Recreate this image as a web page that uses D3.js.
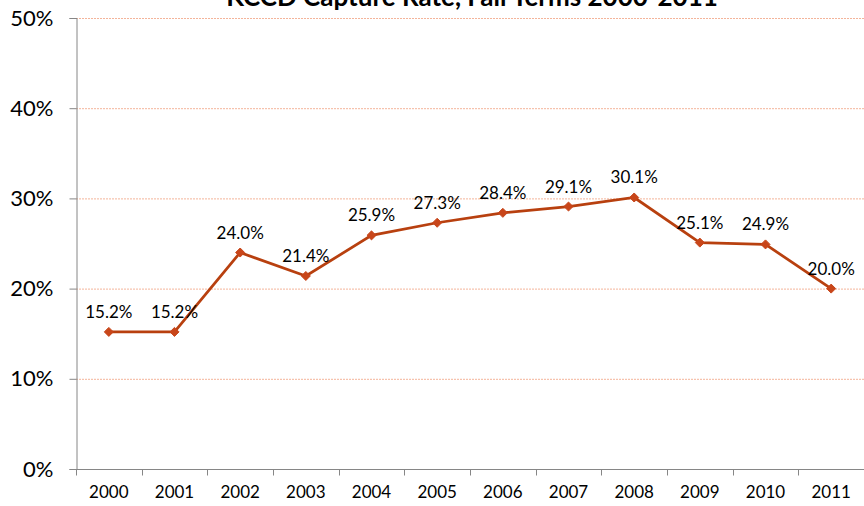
<!DOCTYPE html>
<html>
<head>
<meta charset="utf-8">
<script src="https://cdn.jsdelivr.net/npm/d3@7"></script>
<style>
  body { margin: 0; background: #fff; }
  svg { font-family: Lato, "Liberation Sans", "DejaVu Sans", sans-serif; }
</style>
</head>
<body>
<script>
// chart data
const years = ['2000', '2001', '2002', '2003', '2004', '2005', '2006', '2007', '2008', '2009', '2010', '2011']
const rates = [15.2, 15.2, 24.0, 21.4, 25.9, 27.3, 28.4, 29.1, 30.1, 25.1, 24.9, 20.0]
const yTicks = [0, 10, 20, 30, 40, 50]
const title = 'KCCD Capture Rate, Fall Terms 2000-2011'

const width = 864, height = 506
const margin = {top: 18, right: 0, bottom: 37, left: 76}

const svg = d3.select('body').append('svg')
    .attr('width', width)
    .attr('height', height)

// scales
const xScale = d3.scaleBand()
    .domain(years)
    .range([margin.left, width - margin.right])

const yScale = d3.scaleLinear()
    .domain([0, 50])
    .range([height - margin.bottom, margin.top])

// gridlines
svg.append('g').selectAll('line')
    .data(yTicks.filter(d => d > 0))
    .enter()
    .append('line')
        .attr('x1', margin.left)
        .attr('x2', width - margin.right)
        .attr('y1', d => yScale(d) + 0.5)
        .attr('y2', d => yScale(d) + 0.5)
        .attr('stroke', '#f4b49a')
        .attr('stroke-width', 1)
        .attr('stroke-dasharray', '2,1')

// y axis
const yAxis = svg.append('g')
    .attr('transform', 'translate(' + (margin.left + 0.5) + ',0)')
    .call(d3.axisLeft(yScale).tickValues(yTicks).tickSize(7).tickFormat(d => d + '%'))
yAxis.select('.domain').attr('stroke', '#868686')
yAxis.selectAll('.tick line').attr('stroke', '#868686')
yAxis.selectAll('.tick text')
    .attr('font-size', '22px')
    .attr('font-family', 'Lato, "Liberation Sans", sans-serif')
    .attr('fill', '#000')
    .attr('x', -23)

// x axis, ticks between categories
const xAxisY = height - margin.bottom + 0.5
svg.append('line')
    .attr('x1', margin.left)
    .attr('x2', width - margin.right)
    .attr('y1', xAxisY)
    .attr('y2', xAxisY)
    .attr('stroke', '#868686')
svg.append('g').selectAll('line')
    .data(years)
    .enter()
    .append('line')
        .attr('x1', d => Math.round(xScale(d)) + 0.5)
        .attr('x2', d => Math.round(xScale(d)) + 0.5)
        .attr('y1', xAxisY)
        .attr('y2', xAxisY + 6)
        .attr('stroke', '#868686')
svg.append('g').selectAll('text')
    .data(years)
    .enter()
    .append('text')
        .attr('x', d => xScale(d) + xScale.bandwidth() / 2)
        .attr('y', 498)
        .attr('text-anchor', 'middle')
        .attr('font-size', '17px')
        .text(d => d)

// the line
const line = d3.line()
    .x((d, i) => xScale(years[i]) + xScale.bandwidth() / 2)
    .y(d => yScale(d))

svg.append('path')
    .datum(rates)
    .attr('d', line)
    .attr('fill', 'none')
    .attr('stroke', '#b8400f')
    .attr('stroke-width', 2.75)

// diamond markers
svg.selectAll('.dot').data(rates)
    .enter()
    .append('path')
        .attr('d', d3.symbol().type(d3.symbolDiamond2).size(52))
        .attr('transform', (d, i) => 'translate(' + (xScale(years[i]) + xScale.bandwidth() / 2) + ',' + yScale(d) + ')')
        .attr('fill', '#c8461a')
        .attr('stroke', '#c8461a')

// value labels
svg.selectAll('.label').data(rates)
    .enter()
    .append('text')
        .attr('x', (d, i) => xScale(years[i]) + xScale.bandwidth() / 2)
        .attr('y', d => yScale(d) - 14)
        .attr('text-anchor', 'middle')
        .attr('font-size', '17px')
        .attr('fill', '#000')
        .text(d => d.toFixed(1) + '%')

// title (cut off at top like the original)
svg.append('text')
    .attr('x', 472)
    .attr('y', 6)
    .attr('text-anchor', 'middle')
    .attr('font-size', '26px')
    .attr('font-weight', 'bold')
    .text(title)
</script>
</body>
</html>
